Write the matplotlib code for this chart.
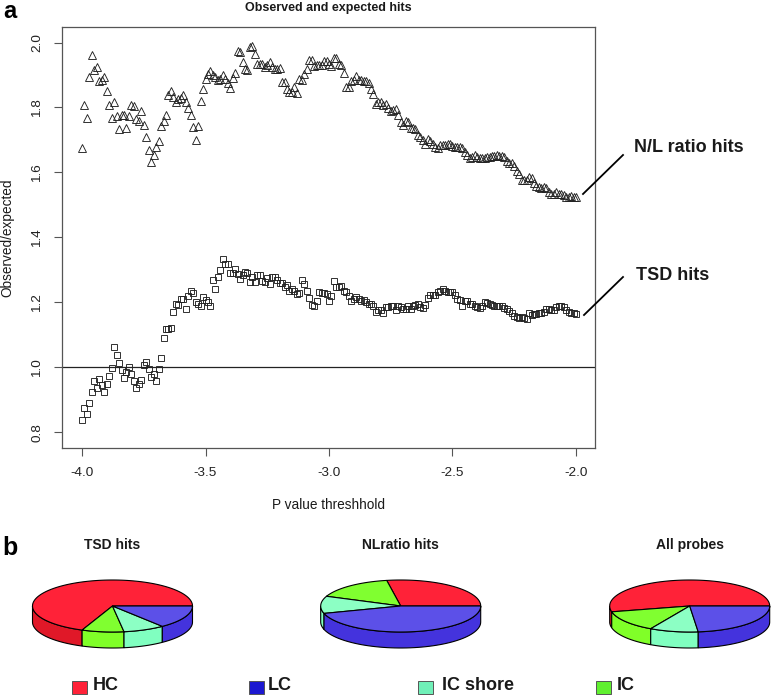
import numpy as np
import matplotlib
matplotlib.use("Agg")
import matplotlib.pyplot as plt
from matplotlib.patches import Polygon, Rectangle

plt.rcParams['font.family'] = ['Liberation Sans', 'DejaVu Sans']

# P value thresholds (log10), one point every 0.01
thresholds = [round(-4 + i * 0.01, 2) for i in range(201)]

nl_hits = [
    1.674, 1.809, 1.769, 1.895, 1.961, 1.917, 1.925, 1.881, 1.886, 1.893,
    1.851, 1.809, 1.767, 1.816, 1.774, 1.734, 1.777, 1.777, 1.736, 1.774,
    1.809, 1.804, 1.764, 1.759, 1.789, 1.747, 1.709, 1.669, 1.631, 1.655,
    1.677, 1.697, 1.744, 1.759, 1.776, 1.839, 1.851, 1.832, 1.817, 1.825,
    1.830, 1.837, 1.817, 1.797, 1.778, 1.739, 1.699, 1.742, 1.819, 1.856,
    1.888, 1.902, 1.912, 1.899, 1.894, 1.884, 1.889, 1.899, 1.889, 1.874,
    1.861, 1.892, 1.907, 1.974, 1.971, 1.939, 1.920, 1.915, 1.985, 1.989,
    1.966, 1.935, 1.935, 1.935, 1.925, 1.930, 1.940, 1.925, 1.920, 1.920,
    1.922, 1.880, 1.880, 1.856, 1.848, 1.848, 1.864, 1.846, 1.889, 1.886,
    1.903, 1.918, 1.946, 1.946, 1.927, 1.930, 1.932, 1.932, 1.944, 1.944,
    1.935, 1.927, 1.951, 1.951, 1.933, 1.930, 1.907, 1.864, 1.864, 1.881,
    1.884, 1.896, 1.886, 1.884, 1.882, 1.881, 1.874, 1.858, 1.841, 1.812,
    1.817, 1.817, 1.807, 1.810, 1.797, 1.790, 1.792, 1.794, 1.776, 1.756,
    1.746, 1.759, 1.756, 1.738, 1.738, 1.735, 1.715, 1.710, 1.699, 1.689,
    1.702, 1.697, 1.687, 1.679, 1.674, 1.684, 1.684, 1.686, 1.687, 1.687,
    1.681, 1.679, 1.677, 1.677, 1.674, 1.664, 1.655, 1.643, 1.648, 1.655,
    1.648, 1.643, 1.643, 1.643, 1.646, 1.648, 1.650, 1.651, 1.653, 1.650,
    1.650, 1.648, 1.636, 1.628, 1.628, 1.621, 1.605, 1.595, 1.578, 1.576,
    1.578, 1.585, 1.582, 1.568, 1.559, 1.554, 1.553, 1.556, 1.551, 1.541,
    1.535, 1.535, 1.541, 1.535, 1.533, 1.531, 1.525, 1.525, 1.528, 1.525,
    1.523,
]

tsd_hits = [
    0.836, 0.875, 0.855, 0.891, 0.925, 0.958, 0.937, 0.965, 0.944, 0.922,
    0.949, 0.973, 0.996, 1.062, 1.038, 1.014, 0.991, 0.968, 0.986, 1.002,
    0.979, 0.958, 0.935, 0.949, 0.961, 1.007, 1.016, 0.994, 0.971, 0.979,
    0.958, 0.994, 1.029, 1.089, 1.118, 1.119, 1.120, 1.171, 1.194, 1.192,
    1.211, 1.209, 1.179, 1.219, 1.235, 1.229, 1.201, 1.194, 1.187, 1.215,
    1.207, 1.200, 1.190, 1.269, 1.240, 1.279, 1.299, 1.332, 1.319, 1.319,
    1.289, 1.289, 1.302, 1.287, 1.272, 1.283, 1.292, 1.289, 1.261, 1.279,
    1.263, 1.284, 1.284, 1.264, 1.261, 1.274, 1.255, 1.277, 1.277, 1.269,
    1.258, 1.258, 1.248, 1.253, 1.235, 1.240, 1.236, 1.225, 1.228, 1.269,
    1.255, 1.234, 1.212, 1.192, 1.187, 1.205, 1.231, 1.230, 1.230, 1.225,
    1.205, 1.219, 1.266, 1.248, 1.248, 1.250, 1.236, 1.231, 1.219, 1.204,
    1.209, 1.217, 1.210, 1.205, 1.207, 1.202, 1.195, 1.195, 1.189, 1.171,
    1.176, 1.176, 1.168, 1.184, 1.184, 1.187, 1.187, 1.176, 1.187, 1.185,
    1.178, 1.178, 1.189, 1.178, 1.187, 1.192, 1.195, 1.184, 1.182, 1.192,
    1.214, 1.221, 1.221, 1.223, 1.231, 1.235, 1.240, 1.236, 1.231, 1.231,
    1.231, 1.221, 1.210, 1.207, 1.189, 1.205, 1.205, 1.195, 1.194, 1.190,
    1.185, 1.182, 1.187, 1.200, 1.197, 1.195, 1.192, 1.187, 1.189, 1.190,
    1.189, 1.182, 1.178, 1.173, 1.168, 1.158, 1.154, 1.151, 1.154, 1.151,
    1.149, 1.166, 1.161, 1.163, 1.164, 1.166, 1.166, 1.169, 1.178, 1.178,
    1.176, 1.176, 1.184, 1.187, 1.189, 1.184, 1.176, 1.171, 1.168, 1.166,
    1.164,
]

x_ticks = [-4.0, -3.5, -3.0, -2.5, -2.0]
y_ticks = [0.8, 1.0, 1.2, 1.4, 1.6, 1.8, 2.0]

# pie shares in percent, order HC, IC, IC shore, LC going round from the right
pie_names = ['TSD hits', 'NLratio hits', 'All probes']
tsd_shares = [68.8, 8.5, 8.4, 14.3]
nl_shares = [27.8, 16.1, 10.7, 45.4]
all_shares = [53.6, 13.3, 9.8, 23.3]

top_colors = ['#ff2238', '#80ff30', '#8cffc4', '#5c50e8']
rim_colors = ['#e01828', '#80ff28', '#80ffc0', '#4433dd']

legend_names = ['HC', 'LC', 'IC shore', 'IC']
legend_colors = ['#ff2238', '#1c18d0', '#70f0b8', '#60f030']

W, H = 771, 696
fig = plt.figure(figsize=(W / 100, H / 100), dpi=100)

# main scatter
ax = fig.add_axes([62 / W, 1 - 448 / H, 533 / W, 421 / H])
ax.plot(thresholds, nl_hits, linestyle='none', marker='^', ms=6.0, mfc='none',
        mec='#222222', mew=0.65)
ax.plot(thresholds, tsd_hits, linestyle='none', marker='s', ms=4.2, mfc='none',
        mec='#222222', mew=0.65)
ax.axhline(1.0, color='#222222', lw=0.9)
ax.set_xlim(-4.081, -1.923)
ax.set_ylim(0.751, 2.048)
ax.set_xticks(x_ticks)
ax.set_yticks(y_ticks)
ax.set_xticklabels(['%.1f' % v for v in x_ticks])
ax.set_yticklabels(['%.1f' % v for v in y_ticks], rotation=90, va='center')
ax.tick_params(length=5.5, width=0.8, color='#555555', labelsize=9.7,
               labelcolor='#222222')
ax.tick_params(axis='x', pad=8)
ax.tick_params(axis='y', pad=8)
for s in ax.spines.values():
    s.set_color('#555555')
    s.set_linewidth(0.9)

# overlay in pixel coordinates for the pies, labels and legend
ov = fig.add_axes([0, 0, 1, 1], facecolor='none')
ov.set_xlim(0, W)
ov.set_ylim(H, 0)
ov.axis('off')

ink = '#1a1a1a'
ov.text(328, 8, 'Observed and expected hits', ha='center', va='center',
        fontsize=9, fontweight='bold', color=ink)
ov.text(328, 505, 'P value threshhold', ha='center', va='center', fontsize=9.8,
        color=ink)
ov.text(7, 237.5, 'Observed/expected', ha='center', va='center', rotation=90,
        fontsize=9.8, color=ink)
ov.text(3, 18, 'a', ha='left', va='baseline', fontsize=17, fontweight='bold', color='black')
ov.text(2, 555, 'b', ha='left', va='baseline', fontsize=18, fontweight='bold', color='black')
ov.text(634, 147, 'N/L ratio hits', ha='left', va='center', fontsize=13,
        fontweight='bold', color=ink)
ov.text(636, 275, 'TSD hits', ha='left', va='center', fontsize=13,
        fontweight='bold', color=ink)
ov.plot([583, 623], [194, 155], color='black', lw=1.3)
ov.plot([584, 623], [315, 277], color='black', lw=1.3)


def draw_pie(cx, shares, name):
    cy, rx, ry, depth = 606, 80, 26, 16
    edges = np.radians(np.cumsum([0] + shares) * 3.6)
    for a0, a1, c in zip(edges[:-1], edges[1:], rim_colors):
        lo, hi = max(a0, np.pi), min(a1, 2 * np.pi)
        if hi > lo:
            t = np.linspace(lo, hi, 60)
            xs = cx + rx * np.cos(t)
            ys = cy - ry * np.sin(t)
            pts = list(zip(xs, ys)) + list(zip(xs[::-1], ys[::-1] + depth))
            ov.add_patch(Polygon(pts, closed=True, fc=c, ec='black', lw=0.8))
    for a0, a1, c in zip(edges[:-1], edges[1:], top_colors):
        t = np.linspace(a0, a1, 120)
        pts = [(cx, cy)] + list(zip(cx + rx * np.cos(t), cy - ry * np.sin(t)))
        ov.add_patch(Polygon(pts, closed=True, fc=c, ec='black', lw=0.8))
    ov.text(cx, 545, name, ha='center', va='center', fontsize=10,
            fontweight='bold', color=ink)


draw_pie(112.5, tsd_shares, pie_names[0])
draw_pie(400.7, nl_shares, pie_names[1])
draw_pie(689.7, all_shares, pie_names[2])

# legend
patch_x = [72, 249, 418, 596]
label_x = [93, 268, 442, 617]
for px, lx, n, c in zip(patch_x, label_x, legend_names, legend_colors):
    ov.add_patch(Rectangle((px, 681), 15, 13, fc=c, ec='#555555', lw=0.7))
    ov.text(lx, 686, n, ha='left', va='center', fontsize=13, fontweight='bold',
            color=ink)

fig.savefig('out.png', dpi=100)
